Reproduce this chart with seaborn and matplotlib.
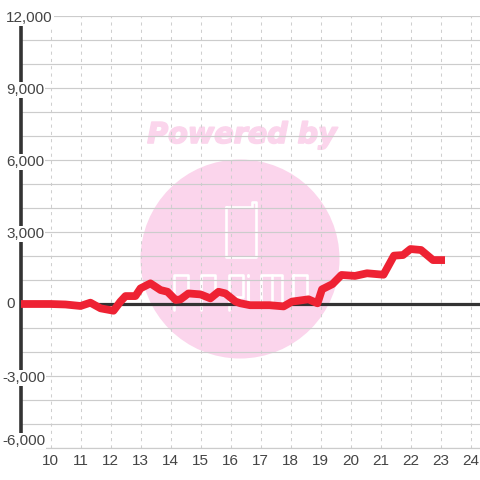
import matplotlib
matplotlib.use("Agg")
import matplotlib.pyplot as plt
import matplotlib.patheffects as pe
from matplotlib.lines import Line2D
import seaborn as sns
import pandas as pd
from matplotlib.patches import Circle
from matplotlib.transforms import blended_transform_factory, IdentityTransform

hours = [9, 10, 10.5, 11, 11.33, 11.67, 12.1, 12.33, 12.5, 12.83, 13, 13.33, 13.67, 13.9, 14.17, 14.33,
         14.6, 15, 15.33, 15.6, 15.83, 16.17, 16.33, 16.65, 17.3, 17.77, 18.05, 18.6, 18.9, 19.05, 19.4,
         19.7, 20.15, 20.55, 21.1, 21.45, 21.75, 22, 22.35, 22.75, 23.15]
diff = [0, 0, -20, -83, 55, -180, -280, 100, 330, 330, 650, 860, 580, 510, 170, 190,
        440, 400, 235, 510, 440, 100, 30, -50, -50, -100, 100, 195, 30, 610, 830,
        1210, 1170, 1280, 1220, 2015, 2040, 2290, 2250, 1830, 1830]
y_major = [12000, 9000, 6000, 3000, 0, -3000, -6000]
y_grid = list(range(-6000, 12001, 1000))
x_ticks = list(range(10, 25))

sns.set_style("white")
plt.rcParams["font.family"] = ["Liberation Sans", "DejaVu Sans"]

fig = plt.figure(figsize=(4.8, 4.8), dpi=100)
W = H = 480.0
ax = fig.add_axes([20.5 / W, 1 - 448 / H, 1 - 20.5 / W, 432 / H])
ax.patch.set_visible(False)
df = pd.DataFrame({"hour": hours, "diff": diff})

# watermark logo, in pixel coordinates with y pointing down
pink = "#fbd5ec"
fig.add_artist(Circle((240, 480 - 259), 99.5, transform=IdentityTransform(), fc=pink, ec="none", zorder=-2))
fig.text(242 / W, 1 - 135 / H, "Powered by", color=pink, fontsize=20.6, fontweight="bold", fontstyle="italic",
         family="DejaVu Sans", ha="center", va="center", zorder=-1,
         path_effects=[pe.withStroke(linewidth=1.2, foreground=pink)])

def stroke(points, lw=1.9):
    xs = [p[0] for p in points]
    ys = [480 - p[1] for p in points]
    fig.add_artist(Line2D(xs, ys, transform=IdentityTransform(), color="white", lw=lw,
                          solid_joinstyle="round", solid_capstyle="round", zorder=-1))

# handset
stroke([(226, 207), (252, 207), (252, 202), (256, 202), (256, 257), (226, 257), (226, 207)])
# logo word shapes
for left in [174, 201, 229]:
    stroke([(left, 310), (left, 275), (left + 14, 275), (left + 14, 297), (left, 297)])
stroke([(248, 281), (248, 304)], lw=2.2)
stroke([(248, 275), (248, 276)], lw=2.2)
stroke([(261, 304), (261, 275), (282, 275), (282, 304)])
stroke([(271.5, 275), (271.5, 304)])
stroke([(293, 275), (307, 275), (307, 304), (293, 304), (293, 275)])

sns.lineplot(data=df, x="hour", y="diff", ax=ax, color="#ee2233", lw=5.6, zorder=4,
             solid_joinstyle="round", solid_capstyle="butt", errorbar=None, sort=False)

ax.set_xlim(9, 9 + (480 - 20.5) / 30)
ax.set_ylim(-6000, 12000)
ax.set_xlabel("")
ax.set_ylabel("")
ax.set_xticks(x_ticks)
ax.set_xticklabels([str(v) for v in x_ticks], color="#444444", fontsize=11)
ax.set_yticks(y_grid)
ax.set_yticklabels([])
ax.tick_params(axis="both", length=0)
ax.tick_params(axis="x", pad=4.6)
ax.grid(axis="y", color="#cccccc", lw=0.85, ls="-", zorder=1)
ax.grid(axis="x", color="#cfcfcf", lw=0.75, ls=(0, (3, 4)), zorder=1)
ax.set_axisbelow(True)
ax.axhline(0, color="#333333", lw=2.3, zorder=3)

for name in ["top", "right"]:
    ax.spines[name].set_visible(False)
ax.spines["bottom"].set_color("#cccccc")
ax.spines["bottom"].set_linewidth(0.85)
ax.spines["left"].set_color("#333333")
ax.spines["left"].set_linewidth(2.6)
ax.spines["left"].set_bounds(-5600, 12000)

trans = blended_transform_factory(ax.transAxes, ax.transData)
for v in y_major:
    label = f"{v:,}"
    left = -18.5 if v < 0 else -14.5
    up = 7 if v == -6000 else (0 if v == 0 else -1.6)
    ax.annotate(label, xy=(0, v), xycoords=trans, xytext=(left * 0.72, up * 0.72), textcoords="offset points",
                ha="left", va="center", fontsize=11, color="#444444", annotation_clip=False, zorder=6,
                bbox=dict(fc="white", ec="none", pad=0.7))

fig.savefig("out.png", dpi=100)
